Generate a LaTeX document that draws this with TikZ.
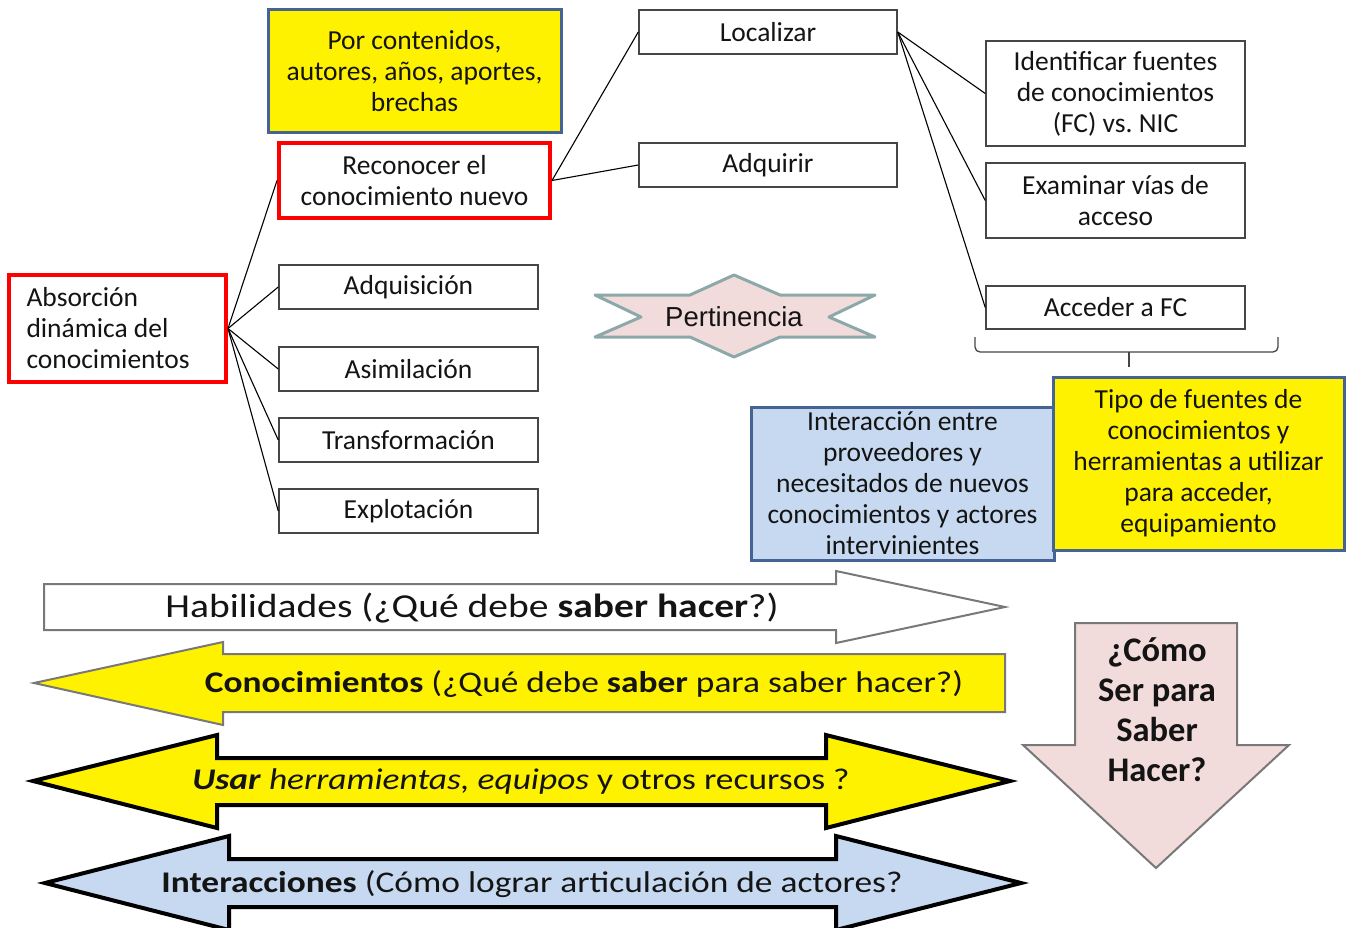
\documentclass[tikz,border=0pt]{standalone}
\usepackage{fontspec}
\setmainfont{Carlito}
\newfontfamily\arialf{Liberation Sans}
\definecolor{boxgray}{RGB}{70,70,70}
\definecolor{bordblue}{RGB}{68,100,150}
\definecolor{lightblue}{RGB}{198,217,240}
\definecolor{pinkfill}{RGB}{242,220,219}
\definecolor{startrim}{RGB}{140,168,168}
\definecolor{arrgray}{RGB}{120,120,120}
\definecolor{txt}{RGB}{20,20,20}
\frenchspacing
\tikzset{
  box/.style={draw=boxgray, line width=1.5pt, fill=white, inner sep=0pt, align=flush center, text=txt, font=\fontsize{27.5}{31}\selectfont},
  redbox/.style={box, draw=red, line width=4pt},
  yelbox/.style={box, fill=yellow, draw=bordblue, line width=3pt},
  bluebox/.style={box, fill=lightblue, draw=bordblue, line width=3pt},
  conn/.style={draw=black, line width=1.1pt},
  arrtext/.style={inner sep=0pt, text=txt, font=\fontsize{30}{34}\selectfont},
}
\begin{document}
\begin{tikzpicture}[x=1pt,y=-1pt]
\useasboundingbox (0,0) rectangle (1346,928);
\clip (0,0) rectangle (1346,928);
\fill[white] (0,0) rectangle (1346,928);

% top boxes
\node[yelbox, minimum width=293, minimum height=123] (por) at (414.5,71.5) {Por contenidos,\\autores, años, aportes,\\brechas};
\node[redbox, minimum width=271, minimum height=75] (rec) at (414.5,180.5) {Reconocer el\\conocimiento nuevo};
\node[box, minimum width=258, minimum height=44] (loc) at (768,32) {Localizar};
\node[box, minimum width=258, minimum height=44] (adq) at (768,165) {Adquirir};
\node[box, minimum width=259, minimum height=105] (ide) at (1115.5,93.5) {Identificar fuentes\\de conocimientos\\(FC) vs. NIC};
\node[box, minimum width=259, minimum height=75] (exa) at (1115.5,200.5) {Examinar vías de\\acceso};
\node[box, minimum width=259, minimum height=43] (acc) at (1115.5,307.5) {Acceder a FC};

\node[redbox, minimum width=217, minimum height=107, text width=182, align=flush left] (abs) at (117.5,328.5) {Absorción\\dinámica del\\conocimientos};
\node[box, minimum width=259, minimum height=44] (adn) at (408.5,287) {Adquisición};
\node[box, minimum width=259, minimum height=44] (asi) at (408.5,369) {Asimilación};
\node[box, minimum width=259, minimum height=44] (tra) at (408.5,440) {Transformación};
\node[box, minimum width=259, minimum height=44] (exp) at (408.5,511) {Explotación};

% connectors
\draw[conn] (abs.east) -- (rec.west);
\draw[conn] (abs.east) -- (adn.west);
\draw[conn] (abs.east) -- (asi.west);
\draw[conn] (abs.east) -- (tra.west);
\draw[conn] (abs.east) -- (exp.west);
\draw[conn] (rec.east) -- (loc.west);
\draw[conn] (rec.east) -- (adq.west);
\draw[conn] (loc.east) -- (ide.west);
\draw[conn] (loc.east) -- (exa.west);
\draw[conn] (loc.east) -- (acc.west);

% brace
\draw[boxgray, line width=1.3pt, rounded corners=5pt] (975,337) -- (975,352) -- (1278,352) -- (1278,337);
\coordinate (bracetip) at (1129,367);
\coordinate (bracemid) at (1129,352);
\draw[boxgray, line width=1.3pt] (bracemid) -- (bracetip);

% star
\draw[fill=pinkfill, draw=startrim, line width=3pt, line join=round]
  (734,275) -- (690,295) -- (595,295) -- (641,317) -- (595,337) -- (690,337) -- (734,357)
  -- (780,337) -- (875,337) -- (829,317) -- (875,295) -- (780,295) -- cycle;
\node[inner sep=0pt, text=txt, font=\arialf\fontsize{27.5}{31}\selectfont] (pert) at (734,317) {Pertinencia};

% lower boxes
\node[bluebox, minimum width=303, minimum height=153] (int) at (902.5,483.5) {Interacción entre\\proveedores y\\necesitados de nuevos\\conocimientos y actores\\intervinientes};
\node[yelbox, minimum width=291, minimum height=173] (tip) at (1198.5,463.5) {Tipo de fuentes de\\conocimientos y\\herramientas a utilizar\\para acceder,\\equipamiento};

% arrow 1
\draw[fill=white, draw=arrgray, line width=2pt, line join=miter]
  (44,584) -- (836,584) -- (836,571) -- (1005,607) -- (836,643) -- (836,630) -- (44,630) -- cycle;
\node[arrtext, font=\fontsize{33.5}{36}\selectfont] (hab) at (472,608) {\scalebox{1.18}[1]{Habilidades (¿Qué debe \textbf{saber hacer}?)}};

% arrow 2
\draw[fill=yellow, draw=arrgray, line width=2pt]
  (1005,654) -- (223,654) -- (223,642) -- (34,683) -- (223,725) -- (223,712) -- (1005,712) -- cycle;
\node[arrtext] (con) at (584,684) {\scalebox{1.18}[1]{\textbf{Conocimientos} (¿Qué debe \textbf{saber} para saber hacer?)}};

% arrow 3
\draw[fill=yellow, draw=black, line width=4pt]
  (217,758) -- (826,758) -- (826,735) -- (1010,781) -- (826,828) -- (826,805) -- (217,805) -- (217,828) -- (33,781) -- (217,735) -- cycle;
\node[arrtext] (usa) at (521,781) {\scalebox{1.18}[1]{\textbf{\textit{Usar}} \textit{herramientas, equipos} y otros recursos ?}};

% arrow 4
\draw[fill=lightblue, draw=black, line width=4pt]
  (229,859) -- (836,859) -- (836,836) -- (1021,883) -- (836,930) -- (836,907) -- (229,907) -- (229,930) -- (45,883) -- (229,836) -- cycle;
\node[arrtext] (inte) at (532,884) {\scalebox{1.18}[1]{\textbf{Interacciones} (Cómo lograr articulación de actores?}};

% down arrow
\draw[fill=pinkfill, draw=arrgray, line width=2pt]
  (1075,623) -- (1237,623) -- (1237,745) -- (1289,745) -- (1156,868) -- (1023,745) -- (1075,745) -- cycle;
\node[inner sep=0pt, align=flush center, text=txt, font=\bfseries\fontsize{34.5}{40}\selectfont] (como) at (1157,710) {¿Cómo\\Ser para\\Saber\\Hacer?};
\end{tikzpicture}
\end{document}
